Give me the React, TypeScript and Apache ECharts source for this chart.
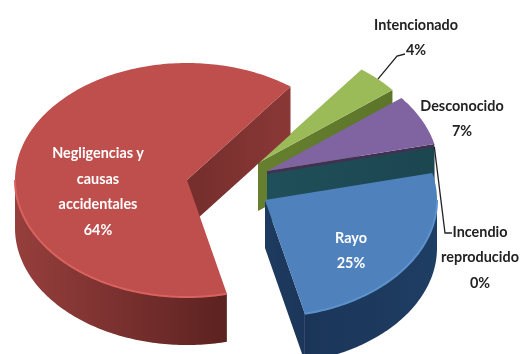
import React, { useEffect, useRef } from "react";
import * as echarts from "echarts";

// Data, in drawing order (clockwise from the top of the pie)
const categories = [
  "Intencionado",
  "Desconocido",
  "Incendio\nreproducido",
  "Rayo",
  "Negligencias y\ncausas\naccidentales",
];
const values = [4, 7, 0, 25, 64];

// Layout and style
const START = 37;
const RX = 172;
const RY = 117;
const DEPTH = 48;
const apexes = [[258, 163], [267, 171], [267, 174], [265, 200], [187, 180]];
const topColors = ["#9bbb59", "#8064a2", "#215a66", "#4f81bd", "#bf4f4c"];
const faceColors = [
  ["#66802f", "#5c7529"],
  ["#403152", "#403152"],
  ["#1f4f5a", "#1c4650"],
  ["#1d3b60", "#1b3659"],
  ["#742e2c", "#8a3836"],
];
const rimColors = [
  ["#66802f", "#5c7529"],
  ["#403152", "#403152"],
  ["#1f4f5a", "#1c4650"],
  ["#1a3558", "#1f3e63"],
  ["#963f3d", "#5c2220"],
];
const rimLight = ["", "", "", "#5d92cc", "#d8625e"];
const labelPos = [[416, 36], [462, 117], [480, 256], [351, 249], [98, 190]];
const labelFill = ["#222222", "#222222", "#222222", "#ffffff", "#ffffff"];
const leaderEnds: (number[][] | null)[] = [
  [[397, 56], [405, 54]],
  null,
  [[445, 233], [452, 233]],
  null,
  null,
];
const FONT = 'bold 16px Lato, "Liberation Sans", sans-serif';

const total = values.reduce((a, b) => a + b, 0);
const startAngles: number[] = [];
values.reduce((acc, v, i) => {
  startAngles[i] = acc;
  return acc + (v / total) * 360;
}, START);

const rad = (d: number) => (d * Math.PI) / 180;
const rimPoint = (apex: number[], a: number, dy = 0) => [
  apex[0] + RX * Math.sin(rad(a)),
  apex[1] - RY * Math.cos(rad(a)) + dy,
];
const arcPoints = (apex: number[], a0: number, a1: number, dy = 0) => {
  const pts: number[][] = [];
  const n = Math.max(1, Math.ceil(Math.abs(a1 - a0)));
  for (let i = 0; i <= n; i++) pts.push(rimPoint(apex, a0 + ((a1 - a0) * i) / n, dy));
  return pts;
};
const hGrad = (c: string[]) =>
  new echarts.graphic.LinearGradient(0, 0, 1, 0, [
    { offset: 0, color: c[0] },
    { offset: 1, color: c[1] },
  ]);

function renderItem(params: any, api: any) {
  const i = params.dataIndex;
  const v = api.value(0);
  const apex = apexes[i];
  const a0 = startAngles[i];
  const a1 = a0 + (v / total) * 360;
  const children: any[] = [];

  // cut face on the clockwise end, visible when turned towards the viewer
  const e = rimPoint(apex, a1);
  children.push({
    type: "polygon",
    shape: { points: [apex, e, [e[0], e[1] + DEPTH], [apex[0], apex[1] + DEPTH]] },
    style: { fill: hGrad(faceColors[i]) },
  });

  // outer wall: the part of the rim that faces the viewer
  const w0 = Math.max(a0, 90);
  const w1 = Math.min(a1, 270);
  if (w1 > w0) {
    const up = arcPoints(apex, w0, w1);
    const down = arcPoints(apex, w1, w0, DEPTH);
    children.push({
      type: "polygon",
      shape: { points: up.concat(down) },
      style: { fill: hGrad(rimColors[i]) },
    });
  }

  // top surface (a zero slice has none)
  if (v > 0) {
    children.push({
      type: "polygon",
      shape: { points: [apex].concat(arcPoints(apex, a0, a1)) },
      style: { fill: topColors[i] },
    });
    if (rimLight[i] && w1 > w0) {
      children.push({
        type: "polyline",
        shape: { points: arcPoints(apex, w0, w1) },
        style: { stroke: rimLight[i], lineWidth: 2, fill: "none" },
      });
    }
  }

  // leader line from the rim at the slice's middle angle
  const ends = leaderEnds[i];
  if (ends) {
    children.push({
      type: "polyline",
      shape: { points: [rimPoint(apex, (a0 + a1) / 2)].concat(ends) },
      style: { stroke: "#222222", lineWidth: 1.3, fill: "none" },
    });
  }
  return { type: "group", children };
}

function renderLabels(params: any, api: any) {
  const i = params.dataIndex;
  return {
    type: "text",
    x: labelPos[i][0],
    y: labelPos[i][1],
    scaleX: 0.9,
    style: {
      text: `${categories[i]}\n${api.value(0)}%`,
      font: FONT,
      fill: labelFill[i],
      textAlign: "center",
      textVerticalAlign: "middle",
      lineHeight: 25.5,
    },
  };
}

export default function App() {
  const ref = useRef<HTMLDivElement>(null);
  useEffect(() => {
    document.body.style.margin = "0";
    const chart = echarts.init(ref.current!, undefined, { renderer: "svg" });
    chart.setOption({
      animation: false,
      backgroundColor: "#ffffff",
      series: [
        {
          type: "custom",
          coordinateSystem: "none",
          renderItem,
          data: values.map((v) => [v]),
          silent: true,
          z: 2,
        },
        {
          type: "custom",
          coordinateSystem: "none",
          renderItem: renderLabels,
          data: values.map((v) => [v]),
          silent: true,
          z: 3,
        },
      ],
    });
    return () => chart.dispose();
  }, []);
  return <div ref={ref} style={{ width: 520, height: 354, filter: "blur(0.5px)" }} />;
}
